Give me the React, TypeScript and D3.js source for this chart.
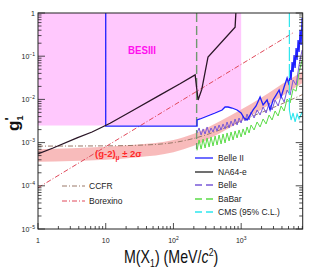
import * as d3 from "d3";

const W = 319;
const H = 277;
const FONT = "'Liberation Sans', Arial, Helvetica, sans-serif";

// axis decades
const xTickVals = [1, 10, 100, 1000];
const yTickVals = [1, 1e-1, 1e-2, 1e-3, 1e-4, 1e-5];

// BESIII excluded region (lower boundary, mass in MeV)
const besMass = [1, 223, 223, 247, 293, 412, 523, 578, 640, 734, 870, 1000];
const besG = [2.5e-3, 2.5e-3, 3.34e-3, 3.52e-3, 3.91e-3, 4.84e-3, 5.69e-3, 6.67e-3, 6.67e-3, 6.32e-3, 5.69e-3, 4.84e-3];

// (g-2)_mu +- 2 sigma band
const bandMass = [1, 10, 30, 100, 200, 500, 1000, 2000, 5000, 8100];
const bandUpper = [7.0e-4, 8.0e-4, 9.0e-4, 1.15e-3, 1.6e-3, 3.2e-3, 5.8e-3, 1.1e-2, 2.8e-2, 4.5e-2];
const bandLower = [3.6e-4, 4.0e-4, 4.6e-4, 6.0e-4, 8.5e-4, 1.7e-3, 3.1e-3, 5.8e-3, 1.5e-2, 2.4e-2];

// CCFR
const ccfrMass = [1, 10, 50, 100, 200, 500, 1000, 3000, 8100];
const ccfrG = [8.3e-4, 8.4e-4, 9.0e-4, 1.0e-3, 1.25e-3, 2.0e-3, 3.2e-3, 6.5e-3, 1.3e-2];

// Borexino
const borexMass = [1, 5880];
const borexG = [9e-5, 0.35];

// NA64-e
const na64Mass = [1, 1.67, 3.77, 6.28, 11.6, 22.9, 63, 125, 209, 231, 262, 324, 813, 835];
const na64G = [5.5e-4, 7.5e-4, 1.28e-3, 1.76e-3, 2.8e-3, 5.1e-3, 1.26e-2, 2.3e-2, 3.7e-2, 9.7e-3, 1.7e-2, 9.6e-2, 0.47, 1];

// Belle II
const belle2Mass = [10, 10, 223, 223, 247, 293, 412, 523, 578, 640, 734, 870, 997, 1105, 1222, 1354, 1500, 1660, 1902, 2106, 2415, 2674, 2960, 3278, 3630, 3886, 4303, 4765, 5099, 5277, 5458, 5650, 5844, 6046, 6255, 6472, 6696, 6925, 7166, 7413, 7670, 7935];
const belle2G = [1, 2.4e-3, 2.4e-3, 3.34e-3, 3.52e-3, 3.91e-3, 4.84e-3, 5.69e-3, 6.67e-3, 6.67e-3, 6.32e-3, 5.69e-3, 4.84e-3, 3.71e-3, 3.34e-3, 4.35e-3, 5.69e-3, 7.04e-3, 1.14e-2, 7.42e-3, 9.69e-3, 5.69e-3, 9.69e-3, 1.26e-2, 1.65e-2, 1.14e-2, 1.94e-2, 3.13e-2, 2.16e-2, 4.79e-2, 2.81e-2, 7.34e-2, 4.31e-2, 0.107, 5.33e-2, 0.155, 8.17e-2, 0.237, 0.125, 0.404, 0.182, 0.766];

// Belle and BaBar share the mass grid
const scanMass = [223, 239, 256, 274, 293, 314, 336, 359, 384, 412, 441, 472, 505, 540, 578, 619, 663, 709, 759, 813, 870, 931, 997, 1067, 1142, 1222, 1308, 1401, 1551, 1718, 1902, 2106, 2333, 2583, 2861, 3168, 3509, 3886, 4303, 4765, 5277, 5844, 6472, 7166, 7935];
const belleG = [1.67e-3, 2.18e-3, 1.5e-3, 2.07e-3, 1.58e-3, 2.3e-3, 1.67e-3, 2.18e-3, 1.76e-3, 2.42e-3, 1.86e-3, 2.55e-3, 1.96e-3, 2.7e-3, 2.07e-3, 3.0e-3, 2.18e-3, 3.16e-3, 2.42e-3, 3.52e-3, 2.55e-3, 3.71e-3, 2.84e-3, 4.13e-3, 3.16e-3, 4.59e-3, 3.34e-3, 5.11e-3, 3.71e-3, 5.69e-3, 4.35e-3, 6.67e-3, 4.84e-3, 8.26e-3, 5.69e-3, 9.69e-3, 7.04e-3, 1.2e-2, 8.71e-3, 1.65e-2, 1.26e-2, 2.81e-2, 2.16e-2, 6.26e-2, 0.139];
const babarG = [6.6e-4, 1.15e-3, 7.1e-4, 1.21e-3, 7.5e-4, 1.28e-3, 7.9e-4, 1.35e-3, 8.35e-4, 1.42e-3, 8.8e-4, 1.5e-3, 9.29e-4, 1.58e-3, 9.8e-4, 1.67e-3, 1.09e-3, 1.76e-3, 1.15e-3, 1.86e-3, 1.28e-3, 1.96e-3, 1.35e-3, 2.07e-3, 1.5e-3, 2.3e-3, 1.67e-3, 2.55e-3, 1.96e-3, 3.0e-3, 2.3e-3, 3.52e-3, 2.7e-3, 4.35e-3, 3.34e-3, 5.39e-3, 4.13e-3, 7.04e-3, 5.39e-3, 1.02e-2, 8.26e-3, 1.74e-2, 1.55e-2, 4.31e-2, 8.17e-2];

// CMS
const cmsMass = [5150, 5150, 5458, 5844, 6255, 6696, 7166, 7935];
const cmsG = [1, 5.69e-3, 3.34e-3, 4.84e-3, 3.0e-3, 4.59e-3, 3.52e-3, 5.11e-3];

// 2 m_mu threshold
const thrMass = 220;
const thrG = [1, 7e-4];

const legendNames = ["Belle II", "NA64-e", "Belle", "BaBar", "CMS (95% C.L.)"];
const legendColors = ["#1f1fff", "#222222", "#7a5ad8", "#5bdc48", "#2ee6ee"];
const legendDash = ["", "", "7,4", "7,4", "7,4"];

export default function App() {
  const x = d3.scaleLog().domain([1, 8100]).range([38, 302.7]);
  const y = d3.scaleLog().domain([1e-5, 1]).range([229, 13]);
  const [x0, x1] = x.range();
  const [y0, y1] = [y(1e-5), y(1)];

  const zip = (ms: number[], gs: number[]) => ms.map((m, i) => [m, gs[i]] as [number, number]);
  const line = d3.line<[number, number]>().x((d) => x(d[0])).y((d) => y(d[1]));

  const besPts: [number, number][] = [[1, 1], ...zip(besMass, besG), [1000, 1]];
  const besPath = line(besPts) + "Z";

  const band = d3
    .area<number>()
    .x((i) => x(bandMass[i]))
    .y0((i) => y(bandLower[i]))
    .y1((i) => y(bandUpper[i]))
    .curve(d3.curveMonotoneX)(bandMass.map((_, i) => i));

  const ccfr = d3.line<[number, number]>().x((d) => x(d[0])).y((d) => y(d[1])).curve(d3.curveMonotoneX)(zip(ccfrMass, ccfrG));
  const na64 = line(zip(na64Mass, na64G));

  // ticks
  const xMinor: { v: number; major: boolean }[] = [];
  for (let d = 0; d <= 3; d++)
    for (let k = 1; k <= 9; k++) {
      const v = k * Math.pow(10, d);
      if (v <= 8100) xMinor.push({ v, major: k === 1 });
    }
  const yMinor: { v: number; major: boolean }[] = [{ v: 1, major: true }];
  for (let d = -5; d <= -1; d++)
    for (let k = 1; k <= 9; k++) yMinor.push({ v: k * Math.pow(10, d), major: k === 1 });

  const expOf = (v: number) => Math.round(Math.log10(v));

  return (
    <svg width={W} height={H} style={{ position: "absolute", left: 0, top: 0 }} fontFamily={FONT}>
      <rect width={W} height={H} fill="#fff" />
      <path d={besPath} fill="#ffc8fd" />
      <path d={band ?? ""} fill="#f7b4b4" opacity={0.9} />

      {/* threshold */}
      <line x1={x(thrMass)} x2={x(thrMass)} y1={y(thrG[0])} y2={y(thrG[1])} stroke="#6f9a6f" strokeWidth={1.4} strokeDasharray="9,4" />

      <path d={ccfr ?? ""} fill="none" stroke="#9a7868" strokeWidth={1} strokeDasharray="5,2,1,2" />
      <path d={line(zip(borexMass, borexG)) ?? ""} fill="none" stroke="#e0485a" strokeWidth={1} strokeDasharray="5,2,1,2" />

      <path d={line(zip(scanMass, babarG)) ?? ""} fill="none" stroke={legendColors[3]} strokeWidth={1} />
      <path d={line(zip(scanMass, belleG)) ?? ""} fill="none" stroke={legendColors[2]} strokeWidth={1} />
      <path d={line(zip(belle2Mass, belle2G)) ?? ""} fill="none" stroke={legendColors[0]} strokeWidth={1.3} />
      <path d={na64 ?? ""} fill="none" stroke="#2a1626" strokeWidth={1.3} />
      <line x1={x(cmsMass[0])} x2={x(cmsMass[1])} y1={y(cmsG[0])} y2={y(cmsG[1])} stroke={legendColors[4]} strokeWidth={1.2} strokeDasharray="14,3" />
      <path d={line(zip(cmsMass.slice(1), cmsG.slice(1))) ?? ""} fill="none" stroke={legendColors[4]} strokeWidth={1.1} />

      {/* labels inside */}
      <text x={128} y={54} fill="#ff10ee" fontWeight="bold" fontSize={11} textLength={28} lengthAdjust="spacingAndGlyphs">BESIII</text>
      <text x={95} y={157} fill="#ff2a2a" fontWeight="bold" fontSize={9.5}>
        (g-2)<tspan fontSize={6.5} dy={3}>μ</tspan><tspan dy={-3}> ± 2σ</tspan>
      </text>

      {/* frame */}
      <rect x={x0} y={y1} width={x1 - x0} height={y0 - y1} fill="none" stroke="#222" strokeWidth={1} />
      {xMinor.map((t, i) => (
        <line key={"xt" + i} x1={x(t.v)} x2={x(t.v)} y1={y0} y2={y0 - (t.major ? 6 : 3)} stroke="#222" strokeWidth={0.8} />
      ))}
      {yMinor.map((t, i) => (
        <g key={"yt" + i}>
          <line x1={x0} x2={x0 + (t.major ? 7 : 3.5)} y1={y(t.v)} y2={y(t.v)} stroke="#222" strokeWidth={0.8} />
          <line x1={x1} x2={x1 - (t.major ? 7 : 3.5)} y1={y(t.v)} y2={y(t.v)} stroke="#222" strokeWidth={0.8} />
        </g>
      ))}
      {xTickVals.map((v) => {
        const e = expOf(v);
        return (
          <text key={"xl" + v} x={x(v)} y={243} fontSize={7} textAnchor="middle" fill="#222">
            {e === 0 ? "1" : "10"}
            {e > 1 && <tspan fontSize={5} dy={-3}>{e}</tspan>}
          </text>
        );
      })}
      {yTickVals.map((v) => {
        const e = expOf(v);
        return (
          <text key={"yl" + v} x={35} y={y(v) + 2.5} fontSize={7} textAnchor="end" fill="#222">
            {e === 0 ? "1" : "10"}
            {e < 0 && <tspan fontSize={5} dy={-3}>{"−" + -e}</tspan>}
          </text>
        );
      })}

      {/* axis titles */}
      <g transform="translate(124,263) scale(0.79,1)">
        <text x={0} y={0} fontSize={18} fill="#111">
          M(X<tspan fontSize={11} dy={4}>1</tspan><tspan dy={-4}>) (MeV/</tspan><tspan fontStyle="italic">c</tspan><tspan fontSize={11} dy={-7}>2</tspan><tspan dy={7}>)</tspan>
        </text>
      </g>
      <text transform="translate(19,131) rotate(-90)" fontSize={17} fontWeight="bold" fill="#111">
        g<tspan fontSize={9} dy={4}>1</tspan><tspan fontSize={13} dx={-5} dy={-9}>'</tspan>
      </text>

      {/* legends */}
      {legendNames.map((n, i) => {
        const ly = [158, 172, 185, 199, 212][i];
        return (
          <g key={n}>
            <line x1={195} x2={213} y1={ly} y2={ly} stroke={legendColors[i]} strokeWidth={1.3} strokeDasharray={legendDash[i]} />
            <text x={218} y={ly + 3} fontSize={8.5} fill="#222">{n}</text>
          </g>
        );
      })}
      <line x1={62} x2={85} y1={186} y2={186} stroke="#9a7868" strokeWidth={1} strokeDasharray="5,2,1,2" />
      <text x={89} y={189} fontSize={8.5} fill="#222">CCFR</text>
      <line x1={62} x2={85} y1={201} y2={201} stroke="#e0485a" strokeWidth={1} strokeDasharray="5,2,1,2" />
      <text x={89} y={204} fontSize={8.5} fill="#222">Borexino</text>
    </svg>
  );
}
